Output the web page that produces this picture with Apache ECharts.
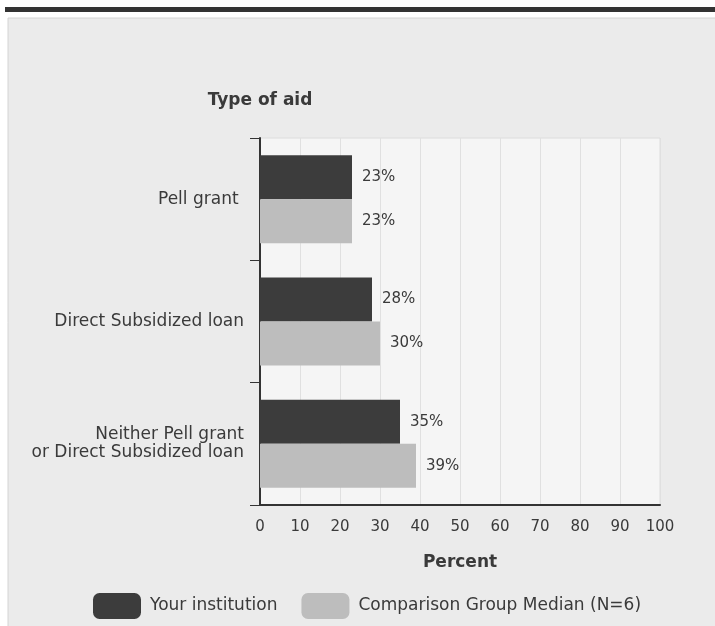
<!DOCTYPE html>
<html>
<head>
<meta charset="utf-8">
<script src="https://cdn.jsdelivr.net/npm/echarts@6/dist/echarts.min.js"></script>
<style>
html,body{margin:0;padding:0;background:#fff;}
#c{width:715px;height:626px;}
</style>
</head>
<body>
<div id="c"></div>
<script>
var categories = ['Pell grant ', 'Direct Subsidized loan', 'Neither Pell grant\nor Direct Subsidized loan'];
var seriesNames = ['Your institution', 'Comparison Group Median (N=6)'];
var yourInstitution = [23, 28, 35];
var comparisonMedian = [23, 30, 39];
var xTicks = [0, 10, 20, 30, 40, 50, 60, 70, 80, 90, 100];

var FONT = 'DejaVu Sans';
var chart = echarts.init(document.getElementById('c'), null, {renderer: 'canvas'});
var option = {
  animation: false,
  backgroundColor: '#ffffff',
  graphic: [
    {type: 'rect', z: -10, shape: {x: 8, y: 18, width: 720, height: 620}, style: {fill: '#ebebeb', stroke: '#d4d4d4', lineWidth: 1}},
    {type: 'rect', z: -10, shape: {x: 5, y: 7, width: 715, height: 5}, style: {fill: '#333333'}}
  ],
  grid: {left: 260, right: 55, top: 138, bottom: 121, show: true, backgroundColor: '#f5f5f5', borderColor: '#dcdcdc', borderWidth: 1},
  legend: {
    bottom: 2, left: 88,
    itemWidth: 48, itemHeight: 26, itemGap: 24,
    icon: 'roundRect',
    textStyle: {fontFamily: FONT, fontSize: 17, color: '#3a3a3a', padding: [0, 0, 0, 4]},
    data: seriesNames
  },
  xAxis: {
    type: 'value', min: xTicks[0], max: xTicks[xTicks.length - 1], interval: 10,
    name: 'Percent', nameLocation: 'middle', nameGap: 49,
    nameTextStyle: {fontFamily: FONT, fontSize: 17, fontWeight: 'bold', color: '#3a3a3a'},
    axisLine: {show: true, lineStyle: {color: '#333', width: 2}},
    axisTick: {show: false},
    axisLabel: {fontFamily: FONT, fontSize: 15, color: '#3a3a3a', margin: 15},
    splitLine: {show: true, lineStyle: {color: '#e0e0e0', width: 1}}
  },
  yAxis: {
    type: 'category', inverse: true, data: categories,
    name: 'Type of aid', nameLocation: 'start', nameGap: 29,
    nameTextStyle: {fontFamily: FONT, fontSize: 17, fontWeight: 'bold', color: '#3a3a3a', align: 'center'},
    axisLine: {show: true, lineStyle: {color: '#333', width: 2}},
    axisTick: {show: true, length: 10, lineStyle: {color: '#333', width: 1}},
    axisLabel: {fontFamily: FONT, fontSize: 17, color: '#3a3a3a', margin: 16, lineHeight: 18, align: 'right'},
    splitLine: {show: false}
  },
  series: [
    {
      name: seriesNames[0], type: 'bar', data: yourInstitution, barWidth: 44, barGap: '0%',
      itemStyle: {color: '#3c3c3c'},
      label: {show: true, position: 'right', distance: 10, formatter: '{c}%', fontFamily: FONT, fontSize: 15, color: '#3a3a3a'}
    },
    {
      name: seriesNames[1], type: 'bar', data: comparisonMedian, barWidth: 44,
      itemStyle: {color: '#bdbdbd'},
      label: {show: true, position: 'right', distance: 10, formatter: '{c}%', fontFamily: FONT, fontSize: 15, color: '#3a3a3a'}
    }
  ]
};
chart.setOption(option);
</script>
</body>
</html>
